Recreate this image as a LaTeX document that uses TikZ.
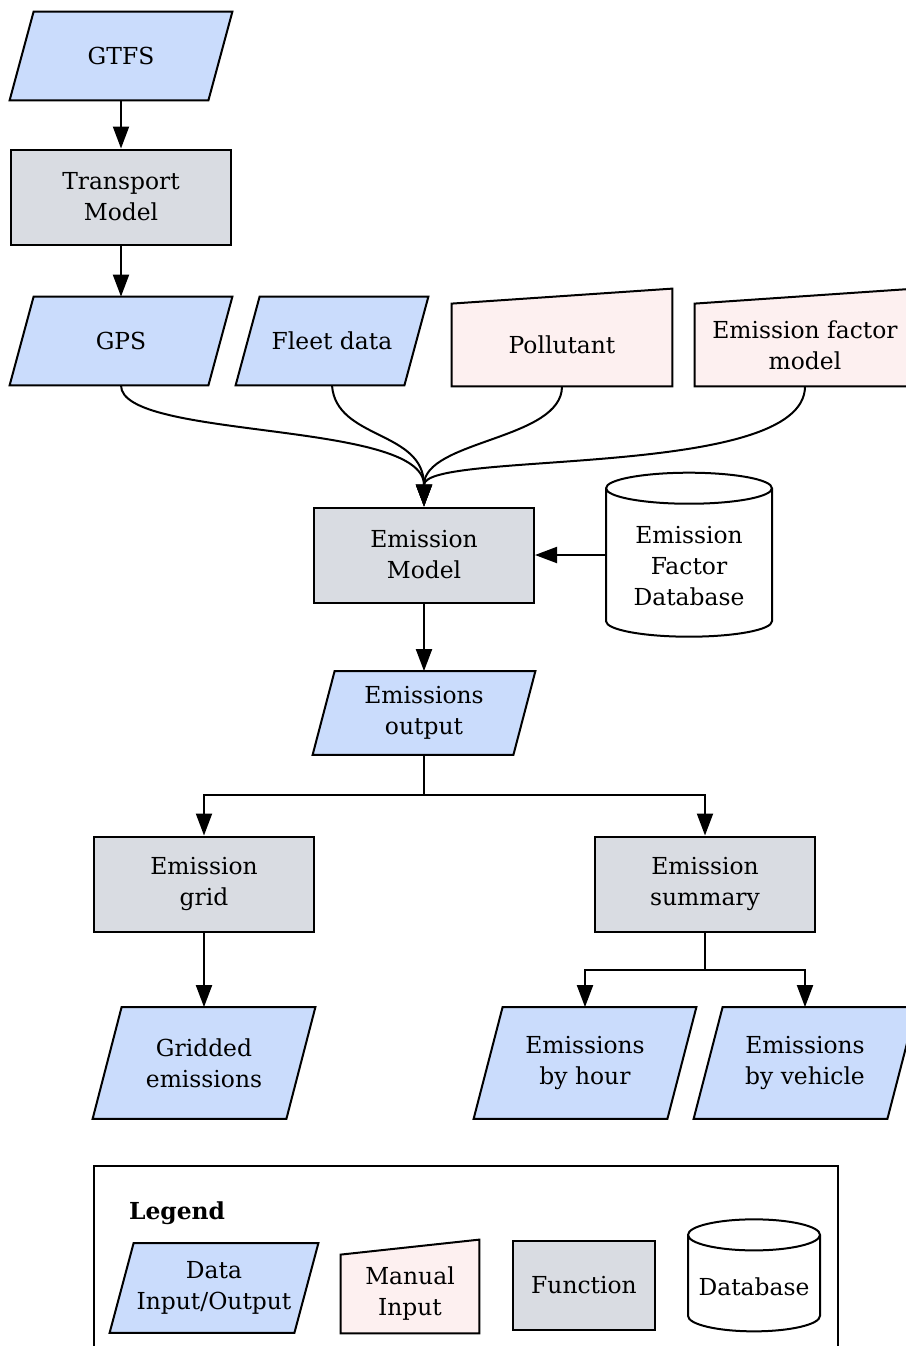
\documentclass[tikz,border=0pt]{standalone}
\usepackage{fontspec}
\setmainfont{DejaVu Serif}
\usepackage{tikz}
\usetikzlibrary{shapes.geometric, arrows.meta, positioning, backgrounds}
\definecolor{iofill}{HTML}{CADCFC}
\definecolor{manfill}{HTML}{FDF0F0}
\definecolor{funcfill}{HTML}{D9DCE2}
\tikzset{every picture/.style={font=\fontsize{11.7}{15.5}\selectfont}}

\begin{document}
\begin{tikzpicture}[
  x=0.5pt, y=-0.5pt,
  io/.style={rectangle, align=center, minimum width=111pt, minimum height=44pt},
  ioshape/.style={draw, line width=1pt, fill=iofill},
  func/.style={rectangle, draw, line width=1pt, fill=funcfill, align=center, minimum width=110pt, minimum height=47.5pt},
  manual/.style={rectangle, align=center, minimum width=110pt, minimum height=41pt},
  manshape/.style={draw, line width=1pt, fill=manfill},
  db/.style={cylinder, shape border rotate=90, aspect=0.25, draw, line width=1pt, fill=white, align=center},
  arrow/.style={-{Triangle[length=11pt,width=8pt]}, line width=1pt}
]
  \useasboundingbox (0,0) rectangle (906,1346);

  % Entrees
  \node[io] (gtfs) at (121,56) {GTFS};
  \node[func] (transport) at (121,197) {Transport\\Model};
  \node[io] (gps) at (121,341) {GPS};
  \node[io, minimum width=96pt] (fleet) at (332,341) {Fleet data};
  \node[manual] (pollutant) at (562,345) {Pollutant};
  \node[manual] (efmodel) at (805,345) {Emission factor\\model};

  % Modele d'emission
  \node[func] (emodel) at (424,555) {Emission\\Model};
  \node[db, minimum width=83pt, minimum height=82pt] (efdb) at (689,566) {Emission\\Factor\\Database};
  \node[io, minimum height=41.5pt] (output) at (424,713) {Emissions\\output};

  % Sorties
  \node[func] (grid) at (204,884) {Emission\\grid};
  \node[func] (summary) at (705,884) {Emission\\summary};
  \node[io, minimum height=55.5pt] (gridded) at (204,1063) {Gridded\\emissions};
  \node[io, minimum height=55.5pt] (byhour) at (585,1063) {Emissions\\by hour};
  \node[io, minimum height=55.5pt] (byvehicle) at (805,1063) {Emissions\\by vehicle};

  % Legende
  \draw[line width=1pt] (94,1166) rectangle (838,1362);
  \node[anchor=west] (legendtitle) at (122,1213) {\bfseries Legend};
  \node[io, minimum width=104pt, minimum height=44.5pt] (lio) at (214,1288) {Data\\Input/Output};
  \node[manual, minimum width=69pt, minimum height=39pt] (lman) at (410,1294) {Manual\\Input};
  \node[func, minimum width=71pt, minimum height=44.5pt] (lfunc) at (584,1285) {Function};
  \node[db, minimum width=66pt, minimum height=56pt] (ldb) at (754,1287) {Database};

  \begin{scope}[on background layer]
    \foreach \n/\s in {gtfs/12pt, gps/12pt, fleet/12pt, output/11pt, gridded/14.5pt, byhour/14.5pt, byvehicle/14.5pt, lio/12pt}
      \filldraw[ioshape] ([xshift=\s]\n.north west) -- (\n.north east) -- ([xshift=-\s]\n.south east) -- (\n.south west) -- cycle;
    \foreach \n in {pollutant, efmodel, lman}
      \filldraw[manshape] (\n.south west) -- (\n.south east) -- ([yshift=7.5pt]\n.north east) -- (\n.north west) -- cycle;
  \end{scope}

  % Fleches
  \draw[arrow] (gtfs) -- (transport);
  \draw[arrow] (transport) -- (gps);
  \draw[arrow] (gps.south) .. controls (121,440) and (424,420) .. (emodel.north);
  \draw[arrow] (fleet.south) .. controls (336,440) and (424,430) .. (emodel.north);
  \draw[arrow] (pollutant.south) .. controls (562,440) and (424,440) .. (emodel.north);
  \draw[arrow] (efmodel.south) .. controls (805,480) and (424,450) .. (emodel.north);
  \draw[arrow] (efdb.west |- emodel.east) -- (emodel.east);
  \draw[arrow] (emodel) -- (output);

  \coordinate (split) at (424,795);
  \draw[line width=1pt] (output.south) -- (split);
  \draw[arrow] (split) -| (grid.north);
  \draw[arrow] (split) -| (summary.north);
  \draw[arrow] (grid) -- (gridded);

  \coordinate (split2) at (705,970);
  \draw[line width=1pt] (summary.south) -- (split2);
  \draw[arrow] (split2) -| (byhour.north);
  \draw[arrow] (split2) -| (byvehicle.north);

\end{tikzpicture}
\end{document}
